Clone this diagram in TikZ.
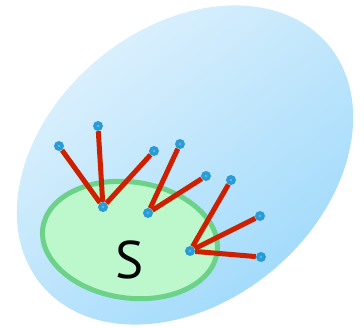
\documentclass[tikz,border=0pt]{standalone}
\usepackage{fontspec}
\usepackage{tikz}
\newfontfamily\setfont{PT Sans}
\definecolor{skylight}{HTML}{E2F3FD}
\definecolor{skydark}{HTML}{9BD8FB}
\definecolor{setlight}{HTML}{BDF8CC}
\definecolor{setmid}{HTML}{9FF5B4}
\definecolor{setrim}{HTML}{6CD28A}
\definecolor{edgered}{HTML}{CC2000}
\definecolor{dotblue}{HTML}{2A9BD4}
\definecolor{dotcore}{HTML}{5FBDE6}

\begin{document}
\begin{tikzpicture}[
  x=1pt, y=-1pt,
  dot/.style={circle, fill=dotblue, inner sep=0pt, minimum size=10pt,
              path picture={\fill[dotcore] (path picture bounding box.center) circle (1.3pt);}},
  link/.style={draw=edgered, line width=5pt}
]
\useasboundingbox (0,0) rectangle (364,327);
% outer region and the set S
\shade[top color=skylight, bottom color=skydark, shading angle=38,
       rotate around={40:(185,165)}] (185,165) ellipse [x radius=187, y radius=137];
\shadedraw[left color=setlight, middle color=setmid, right color=setlight, shading angle=-20,
           draw=setrim, line width=5pt, rotate around={-8:(130,240)}]
  (130,240) ellipse [x radius=88, y radius=58];
\node[font=\setfont\fontsize{53}{53}\selectfont, inner sep=0pt] (s) at (130,260) {S};

% hubs inside S and their neighbours
\node[dot] (h1) at (103,207) {};
\node[dot] (a1) at (59,146) {};
\node[dot] (a2) at (98,126) {};
\node[dot] (a3) at (154,151) {};
\node[dot] (h2) at (148,213) {};
\node[dot] (b1) at (180,144) {};
\node[dot] (b2) at (206,176) {};
\node[dot] (h3) at (190,251) {};
\node[dot] (c1) at (231,180) {};
\node[dot] (c2) at (260,216) {};
\node[dot] (c3) at (261,257) {};

\draw[link] (h1)--(a1); \draw[link] (h1)--(a2); \draw[link] (h1)--(a3);
\draw[link] (h2)--(b1); \draw[link] (h2)--(b2);
\draw[link] (h3)--(c1); \draw[link] (h3)--(c2); \draw[link] (h3)--(c3);
\end{tikzpicture}
\end{document}
